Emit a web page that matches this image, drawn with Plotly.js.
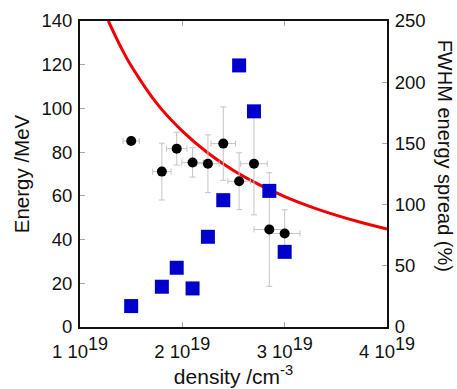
<!DOCTYPE html>
<html>
<head>
<meta charset="utf-8">
<script src="https://cdn.plot.ly/plotly-3.0.1.min.js"></script>
<style>html,body{margin:0;padding:0;background:#fff;}#chart{width:457px;height:389px;}</style>
</head>
<body>
<div id="chart"></div>
<script>
// density in units of 10^19 cm^-3
const density = [1.5, 1.8, 1.945, 2.1, 2.25, 2.4, 2.555, 2.7, 2.85, 3.0];
const densityErr = [0.08, 0.09, 0.10, 0.105, 0.11, 0.12, 0.11, 0.13, 0.15, 0.15];
const energy = [85.1, 71.1, 81.6, 75.3, 74.7, 83.9, 66.7, 74.7, 44.6, 42.8];
const energyErr = [0, 13, 7.5, 6.7, 13.2, 16.8, 13, 23.4, 26, 10.8];
const spread = [17.1, 32.9, 48.4, 31.5, 73.7, 103.6, 213.7, 176.2, 111.2, 61.4];
const curveDensity = [1.277, 1.4, 1.5, 1.75, 2.0, 2.25, 2.5, 2.75, 3.0, 3.25, 3.5, 3.75, 4.0];
const curveEnergy = [140, 128, 119.5, 102.3, 89.6, 79.6, 71.6, 65.1, 59.7, 55.1, 51.2, 47.8, 44.8];
const xTickVals = [1, 2, 3, 4];
const xTickText = ["1 10", "2 10", "3 10", "4 10"];
const leftTicks = [0, 20, 40, 60, 80, 100, 120, 140];
const rightTicks = [0, 50, 100, 150, 200, 250];

const FONT = "Liberation Sans, Arial, Helvetica, sans-serif";
const supSize = 18;

const traces = [
  {
    x: curveDensity, y: curveEnergy, type: "scatter", mode: "lines",
    line: {color: "#ee0000", width: 3, shape: "spline"},
    hoverinfo: "skip", showlegend: false
  },
  {
    x: density, y: energy, type: "scatter", mode: "markers",
    marker: {symbol: "circle", size: 10, color: "#000000"},
    error_x: {type: "data", array: densityErr, visible: true, color: "#c4c4c4", thickness: 1, width: 3},
    error_y: {type: "data", array: energyErr, visible: true, color: "#c4c4c4", thickness: 1, width: 3},
    showlegend: false
  },
  {
    x: density, y: spread, type: "scatter", mode: "markers", yaxis: "y2",
    marker: {symbol: "square", size: 14, color: "#0000cc", line: {width: 0}},
    showlegend: false
  }
];

const layout = {
  width: 457, height: 389,
  margin: {l: 80, r: 70, t: 20.5, b: 62},
  paper_bgcolor: "#ffffff", plot_bgcolor: "#ffffff",
  font: {family: FONT, size: 18.5, color: "#111111"},
  showlegend: false,
  xaxis: {
    range: [1, 4], tickmode: "array", tickvals: xTickVals,
    ticktext: xTickText.map(t => t + "<sup><span style='font-size:" + supSize + "px'>19</span></sup>"),
    ticks: "inside", ticklen: 5, tickwidth: 1, tickcolor: "#a8a8a8",
    showline: true, linecolor: "#111111", linewidth: 2, mirror: "ticks",
    showgrid: false, zeroline: false, ticklabelstandoff: 7,
    tickfont: {family: FONT, size: 18.5, color: "#111111"},
    title: {text: "density /cm<sup>-3</sup>", font: {family: FONT, size: 21, color: "#111111"}, standoff: 0}
  },
  yaxis: {
    range: [0, 140], tickmode: "array", tickvals: leftTicks,
    ticks: "inside", ticklen: 5, tickwidth: 1, tickcolor: "#a8a8a8",
    showline: true, linecolor: "#111111", linewidth: 2, mirror: false,
    showgrid: false, zeroline: false, ticklabelstandoff: 2,
    tickfont: {family: FONT, size: 18.5, color: "#111111"},
    title: {text: "Energy /MeV", font: {family: FONT, size: 20.5, color: "#111111"}, standoff: 6}
  },
  yaxis2: {
    range: [0, 250], overlaying: "y", side: "right", tickmode: "array", tickvals: rightTicks,
    ticks: "inside", ticklen: 5, tickwidth: 1, tickcolor: "#a8a8a8",
    showline: true, linecolor: "#111111", linewidth: 2,
    showgrid: false, zeroline: false, ticklabelstandoff: 2,
    tickfont: {family: FONT, size: 18.5, color: "#111111"}
  },
  annotations: [
    {
      text: "FWHM energy spread (%)", textangle: 90, showarrow: false,
      xref: "paper", yref: "paper", x: 1, xanchor: "center", xshift: 58,
      y: 0.56, yanchor: "middle",
      font: {family: FONT, size: 20, color: "#111111"}
    }
  ]
};

Plotly.newPlot("chart", traces, layout, {displayModeBar: false, staticPlot: true});
</script>
</body>
</html>
